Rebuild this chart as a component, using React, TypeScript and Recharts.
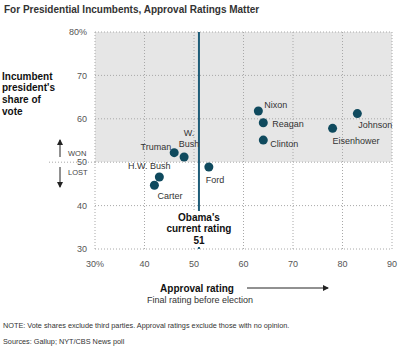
import {
  ScatterChart,
  Scatter,
  XAxis,
  YAxis,
  CartesianGrid,
  ReferenceLine,
} from "recharts";

const presidents = [
  "Truman",
  "W. Bush",
  "H.W. Bush",
  "Carter",
  "Ford",
  "Nixon",
  "Reagan",
  "Clinton",
  "Eisenhower",
  "Johnson",
];
const approval = [46, 48, 43, 42, 53, 63, 64, 64, 78, 83];
const voteShare = [52.2, 51.2, 46.6, 44.7, 48.9, 61.8, 59.1, 55.1, 57.8, 61.2];

const xTicks = [30, 40, 50, 60, 70, 80, 90];
const yTicks = [30, 40, 50, 60, 70, 80];
const obamaRating = 51;

const data = presidents.map((name, i) => ({
  name,
  approval: approval[i],
  vote: voteShare[i],
}));

const FONT = "Arial, 'Liberation Sans', sans-serif";
const DOT = "#0f4a5e";
const TEXT = "#333";
const WON_FILL = "#e6e6e6";

// where each name sits relative to its dot
const labelPos: Record<string, { dx: number; dy: number[]; anchor: string }> = {
  Truman: { dx: -3, dy: [-2.5], anchor: "end" },
  "W. Bush": { dx: 5, dy: [-20.5, -9.5], anchor: "middle" },
  "H.W. Bush": { dx: -10, dy: [-7.5], anchor: "middle" },
  Carter: { dx: 3, dy: [13.5], anchor: "start" },
  Ford: { dx: -3, dy: [16.5], anchor: "start" },
  Nixon: { dx: 6, dy: [-2.5], anchor: "start" },
  Reagan: { dx: 9, dy: [4.5], anchor: "start" },
  Clinton: { dx: 7, dy: [6.5], anchor: "start" },
  Eisenhower: { dx: 0, dy: [15.5], anchor: "start" },
  Johnson: { dx: 1, dy: [14.5], anchor: "start" },
};

const DotWithName = (props: any) => {
  const { cx, cy, payload } = props;
  const pos = labelPos[payload.name];
  const lines = payload.name === "W. Bush" ? ["W.", "Bush"] : [payload.name];
  return (
    <g>
      <circle cx={cx} cy={cy} r={4.5} fill={DOT} />
      {lines.map((line, i) => (
        <text
          key={line}
          x={cx + pos.dx}
          y={cy + pos.dy[i]}
          textAnchor={pos.anchor as any}
          fontSize={9}
          fontFamily={FONT}
          fill={TEXT}
        >
          {line}
        </text>
      ))}
    </g>
  );
};

const ObamaLabel = (props: any) => {
  const { viewBox } = props;
  const x = viewBox.x;
  return (
    <g>
      <rect x={x - 40} y={211} width={80} height={36} fill="#fff" />
      {["Obama's", "current rating", String(obamaRating)].map((t, i) => (
        <text
          key={t}
          x={x}
          y={220.5 + i * 11.5}
          textAnchor="middle"
          fontSize={10}
          fontWeight="bold"
          fontFamily={FONT}
          fill="#111"
        >
          {t}
        </text>
      ))}
    </g>
  );
};

export default function App() {
  const tick = { fontSize: 9, fill: "#555", fontFamily: FONT };
  return (
    <div
      style={{
        position: "absolute",
        left: 0,
        top: 0,
        width: 400,
        height: 347,
        background: "#fff",
        fontFamily: FONT,
      }}
    >
      <ScatterChart
        width={400}
        height={347}
        margin={{ top: 32, right: 8, bottom: 0, left: 0 }}
      >
        <CartesianGrid
          stroke="#a8a8a8"
          strokeDasharray="1 2"
          horizontalValues={yTicks}
          verticalValues={xTicks}
          horizontalFill={[WON_FILL, WON_FILL, WON_FILL, "#fff", "#fff"]}
          fillOpacity={1}
        />
        <XAxis
          type="number"
          dataKey="approval"
          domain={[30, 90]}
          ticks={xTicks}
          height={98}
          axisLine={false}
          tickLine={false}
          tickSize={0}
          tickMargin={12}
          tick={tick}
          tickFormatter={(v: number) => (v === 30 ? "30%" : String(v))}
          interval={0}
        />
        <YAxis
          type="number"
          dataKey="vote"
          domain={[30, 80]}
          ticks={yTicks}
          width={95}
          axisLine={false}
          tickLine={false}
          tickSize={0}
          tickMargin={8}
          tick={tick}
          tickFormatter={(v: number) => (v === 80 ? "80%" : String(v))}
          interval={0}
        />
        <ReferenceLine
          x={obamaRating}
          stroke="#1d5c78"
          strokeWidth={2}
          label={<ObamaLabel />}
        />
        <Scatter
          data={data}
          shape={<DotWithName />}
          isAnimationActive={false}
        />
      </ScatterChart>
      <svg
        width={400}
        height={347}
        style={{ position: "absolute", left: 0, top: 0, pointerEvents: "none" }}
        fontFamily={FONT}
      >
        <defs>
          <marker
            id="ah"
            markerWidth="6"
            markerHeight="6"
            refX="5"
            refY="3"
            orient="auto"
          >
            <path d="M0,0 L6,3 L0,6 Z" fill="#222" />
          </marker>
        </defs>
        <text x={4} y={13} fontSize={10} fontWeight="bold" fill={TEXT}>
          For Presidential Incumbents, Approval Ratings Matter
        </text>
        {["Incumbent", "president's", "share of", "vote"].map((t, i) => (
          <text
            key={t}
            x={2}
            y={79.5 + i * 11.8}
            fontSize={10}
            fontWeight="bold"
            fill="#111"
          >
            {t}
          </text>
        ))}
        <line x1={49} x2={95} y1={162.2} y2={162.2} stroke="#a8a8a8" strokeDasharray="1 2" />
        <line x1={60} x2={60} y1={157} y2={140} stroke="#222" markerEnd="url(#ah)" />
        <line x1={60} x2={60} y1={167} y2={187} stroke="#222" markerEnd="url(#ah)" />
        <text x={68} y={156} fontSize={7.5} fill="#444">WON</text>
        <text x={68} y={175} fontSize={7.5} fill="#444">LOST</text>
        <text x={197} y={291.5} textAnchor="middle" fontSize={10} fontWeight="bold" fill="#111">
          Approval rating
        </text>
        <line x1={247} x2={328} y1={288} y2={288} stroke="#222" markerEnd="url(#ah)" />
        <text x={200} y={303} textAnchor="middle" fontSize={9} fill={TEXT}>
          Final rating before election
        </text>
        <text x={3} y={328} fontSize={7.3} fill={TEXT}>
          NOTE: Vote shares exclude third parties. Approval ratings exclude those with no opinion.
        </text>
        <text x={3} y={344} fontSize={7.3} fill={TEXT}>
          Sources: Gallup; NYT/CBS News poll
        </text>
      </svg>
    </div>
  );
}
